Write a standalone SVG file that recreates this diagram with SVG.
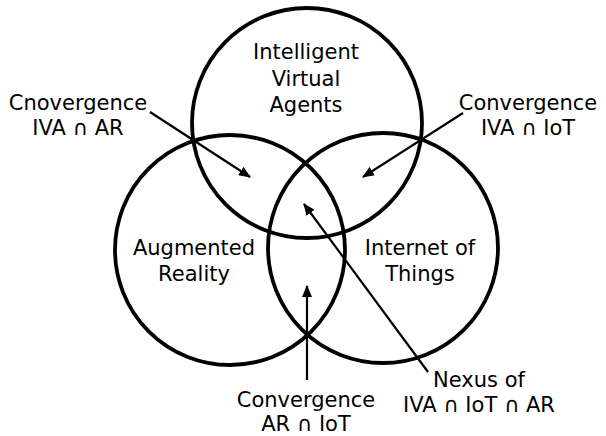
<svg xmlns="http://www.w3.org/2000/svg" width="606" height="436" viewBox="0 0 606 436">
<style>
.c{fill:none;stroke:#000;stroke-width:3.8}
.a{fill:none;stroke:#000;stroke-width:2.2}
text{font-family:"DejaVu Sans",sans-serif;font-size:21px;fill:#000;text-anchor:middle}
</style>
<defs>
<marker id="ah" viewBox="0 0 12 10" refX="11" refY="5" markerWidth="12" markerHeight="10" markerUnits="userSpaceOnUse" orient="auto">
<path d="M0,0 L12,5 L0,10 z" fill="#000"/>
</marker>
</defs>
<rect width="606" height="436" fill="#fff"/>
<g id="iva">
<circle class="c" cx="307" cy="123" r="115"/>
<text x="306" y="59">Intelligent</text>
<text x="306" y="86">Virtual</text>
<text x="306" y="112">Agents</text>
</g>
<g id="ar">
<circle class="c" cx="230" cy="250" r="115"/>
<text x="194" y="255">Augmented</text>
<text x="194" y="281">Reality</text>
</g>
<g id="iot">
<circle class="c" cx="383" cy="248" r="115"/>
<text x="420" y="255">Internet of</text>
<text x="420" y="281">Things</text>
</g>
<g id="label-iva-ar">
<text x="78" y="110">Cnovergence</text>
<text x="78" y="135">IVA ∩ AR</text>
</g>
<g id="label-iva-iot">
<text x="528" y="110">Convergence</text>
<text x="528" y="135">IVA ∩ IoT</text>
</g>
<g id="label-ar-iot">
<text x="306" y="407">Convergence</text>
<text x="306" y="431">AR ∩ IoT</text>
</g>
<g id="label-nexus">
<text x="479" y="387">Nexus of</text>
<text x="479" y="412">IVA ∩ IoT ∩ AR</text>
</g>
<g id="connectors">
<line class="a" x1="150" y1="112" x2="250" y2="177" marker-end="url(#ah)"/>
<line class="a" x1="463" y1="113" x2="363" y2="177" marker-end="url(#ah)"/>
<line class="a" x1="307" y1="380" x2="307" y2="286" marker-end="url(#ah)"/>
<line class="a" x1="428" y1="372" x2="304" y2="204" marker-end="url(#ah)"/>
</g>
</svg>
